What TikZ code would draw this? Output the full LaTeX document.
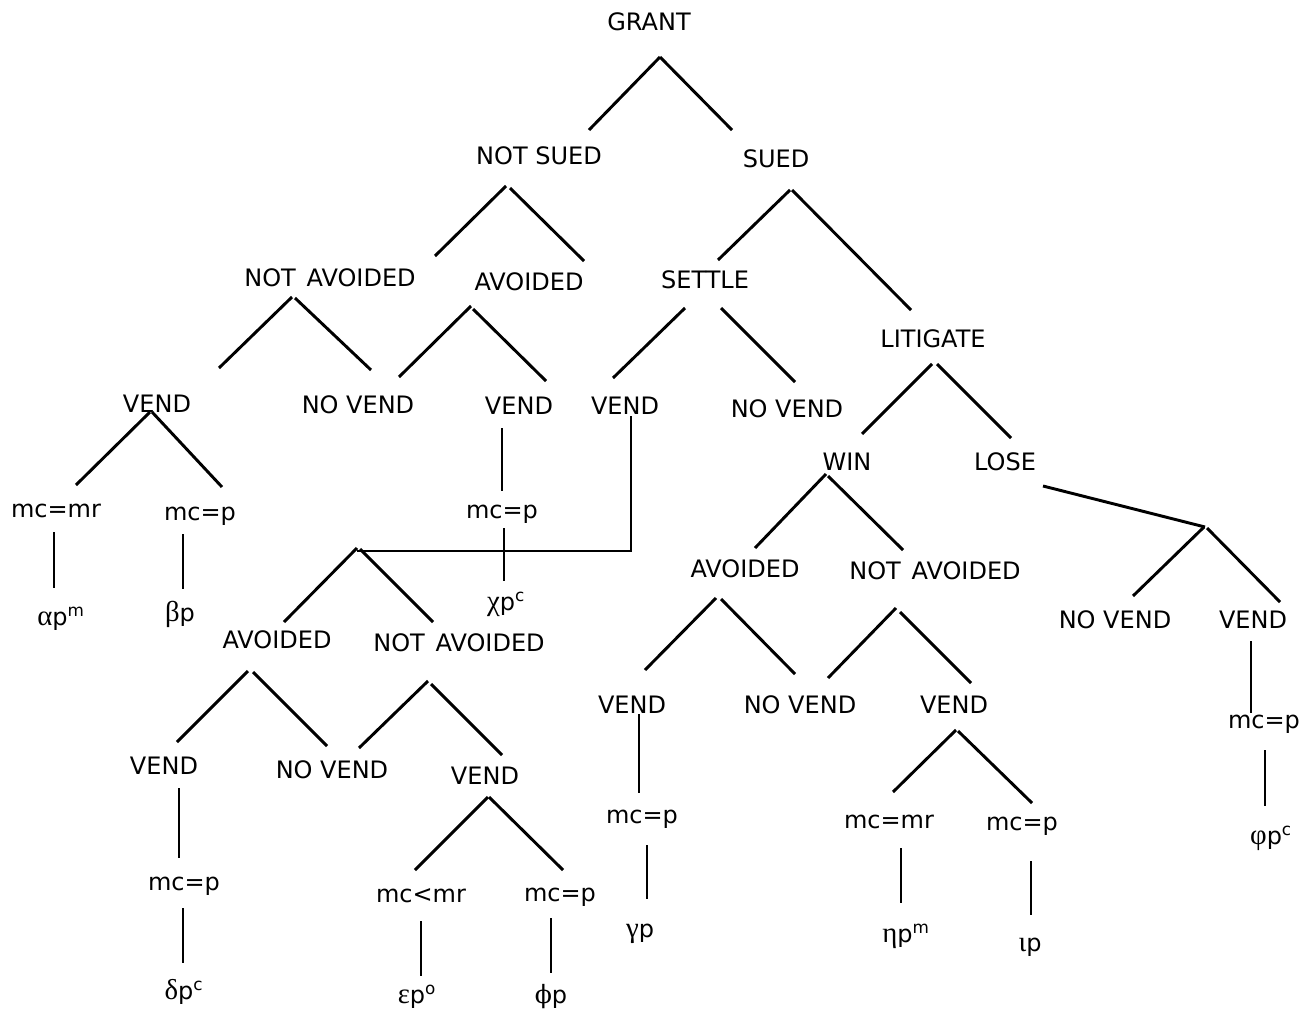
\documentclass[tikz,border=0pt]{standalone}
\usepackage{fontspec}
\setmainfont{DejaVu Sans}
\newfontfamily\gr[Scale=1.2]{Liberation Serif}
\newfontfamily\grb[Scale=1.05]{DejaVu Serif}
\newcommand{\NA}{NOT\hspace{0.45em}AVOIDED}
\begin{document}
\begin{tikzpicture}[x=0.75pt,y=-0.75pt,
  t/.style={font=\fontsize{18}{20}\selectfont, inner sep=0pt, anchor=base},
  edge/.style={line width=2.2pt}]
\useasboundingbox (0,0) rectangle (1313,1010);
% text nodes
\node[t] (grant) at (649,31) {GRANT};
\node[t] (notsued) at (539,164) {NOT SUED};
\node[t] (sued) at (776,167) {SUED};
\node[t] (na1) at (330,286) {\NA};
\node[t] (av1) at (529,290) {AVOIDED};
\node[t] (settle) at (705,288) {SETTLE};
\node[t] (litig) at (933,347) {LITIGATE};
\node[t] (v1) at (157,412) {VEND};
\node[t] (nv1) at (358,413) {NO VEND};
\node[t] (v2) at (519,414) {VEND};
\node[t] (v3) at (625,414) {VEND};
\node[t] (nv2) at (787,417) {NO VEND};
\node[t] (win) at (847,470) {WIN};
\node[t] (lose) at (1005,470) {LOSE};
\node[t] (m1) at (56,517) {mc=mr};
\node[t] (m2) at (200,520) {mc=p};
\node[t] (m3) at (502,518) {mc=p};
\node[t] (r3) at (506,610) {{\gr χ}p\textsuperscript{c}};
\node[t] (r1) at (61,625) {{\gr α}p\textsuperscript{m}};
\node[t] (r2) at (180,621) {{\gr β}p};
\node[t] (av2) at (277,648) {AVOIDED};
\node[t] (na2) at (459,651) {\NA};
\node[t] (av3) at (745,577) {AVOIDED};
\node[t] (na3) at (935,579) {\NA};
\node[t] (nv3) at (1115,628) {NO VEND};
\node[t] (v4) at (1253,628) {VEND};
\node[t] (m4) at (1264,728) {mc=p};
\node[t] (r4) at (1271,844) {{\gr φ}p\textsuperscript{c}};
\node[t] (v5) at (164,774) {VEND};
\node[t] (nv4) at (332,778) {NO VEND};
\node[t] (v6) at (485,784) {VEND};
\node[t] (v7) at (632,713) {VEND};
\node[t] (nv5) at (800,713) {NO VEND};
\node[t] (v8) at (954,713) {VEND};
\node[t] (m5) at (184,890) {mc=p};
\node[t] (m6) at (421,902) {mc<mr};
\node[t] (m7) at (560,901) {mc=p};
\node[t] (m8) at (642,823) {mc=p};
\node[t] (m9) at (889,828) {mc=mr};
\node[t] (m10) at (1022,830) {mc=p};
\node[t] (r5) at (184,999) {{\gr δ}p\textsuperscript{c}};
\node[t] (r6) at (417,1003) {{\gr ε}p\textsuperscript{o}};
\node[t] (r7) at (551,1003) {{\grb ϕ}p};
\node[t] (r8) at (640,937) {{\gr γ}p};
\node[t] (r9) at (906,942) {{\gr η}p\textsuperscript{m}};
\node[t] (r10) at (1030,951) {{\gr ι}p};
% connectors
\begin{scope}[edge]
\draw (660,57) coordinate (aGrant) -- (589,130);
\draw (aGrant) -- (732,130);
\draw (506,186) coordinate (aNS) -- (435,256);
\draw (510,188) -- (584,261);
\draw (790,190) coordinate (aS) -- (718,260);
\draw (792,190) -- (911,310);
\draw (292,297) coordinate (aNA1) -- (219,368);
\draw (295,298) -- (371,370);
\draw (471,306) coordinate (aAV1) -- (399,377);
\draw (473,309) -- (546,381);
\draw (685,308) coordinate (aSet) -- (613,378);
\draw (721,308) -- (795,382);
\draw (932,364) coordinate (aLit) -- (862,434);
\draw (937,364) -- (1011,438);
\draw (150,412) coordinate (aV1) -- (76,485);
\draw (152,412) -- (222,487);
\draw (502,428) -- (502,491);
\draw (504,528) -- (504,581);
\draw (631,416) -- (631,551) -- (357,551);
\draw (357,548) coordinate (aV3) -- (284,622);
\draw (360,549) -- (433,622);
\draw (826,474) coordinate (aWin) -- (755,548);
\draw (828,476) -- (903,550);
\draw (1043,486) -- (1205,527);
\draw (1204,527) coordinate (aLose) -- (1133,596);
\draw (1207,528) -- (1280,602);
\draw (1251,641) -- (1251,713);
\draw (1265,750) -- (1265,806);
\draw (248,671) coordinate (aAV2) -- (177,742);
\draw (253,672) -- (327,746);
\draw (428,681) coordinate (aNA2) -- (359,748);
\draw (431,684) -- (502,755);
\draw (716,598) coordinate (aAV3) -- (645,670);
\draw (721,599) -- (795,674);
\draw (896,608) coordinate (aNA3) -- (828,678);
\draw (900,612) -- (971,683);
\draw (179,788) -- (179,858);
\draw (183,908) -- (183,963);
\draw (488,797) coordinate (aV6) -- (415,870);
\draw (489,797) -- (563,870);
\draw (421,921) -- (421,976);
\draw (551,918) -- (551,973);
\draw (639,714) -- (639,793);
\draw (647,845) -- (647,899);
\draw (956,730) coordinate (aV8) -- (893,792);
\draw (958,731) -- (1032,803);
\draw (901,848) -- (901,903);
\draw (1031,861) -- (1031,915);
\draw (54,532) -- (54,588);
\draw (183,534) -- (183,589);
\end{scope}
\end{tikzpicture}
\end{document}
